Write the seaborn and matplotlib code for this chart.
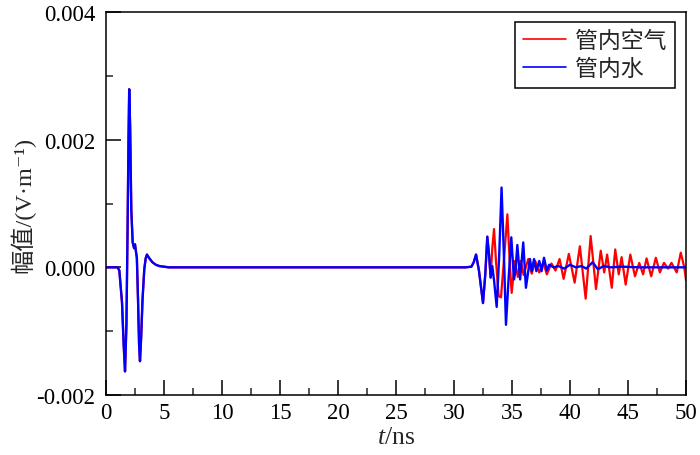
import numpy as np
import pandas as pd
import matplotlib
matplotlib.use("Agg")
import matplotlib.pyplot as plt
import seaborn as sns
from matplotlib.ticker import MultipleLocator, FormatStrFormatter

# direct wave near the antenna (both media share it), amplitude in 1e-3 V/m
direct_t = [0.0, 1.0, 1.15, 1.38, 1.52, 1.64, 1.76, 1.86, 1.94, 2.0, 2.08, 2.18, 2.3,
            2.42, 2.5, 2.58, 2.66, 2.76, 2.85, 2.93, 3.03, 3.15, 3.3, 3.42, 3.53,
            3.7, 4.0, 4.3, 4.6, 5.0, 5.4, 31.0, 31.5, 31.7, 31.9, 32.15, 32.5,
            32.7, 32.87, 33.02, 33.16]
direct_v = [0.0, 0.0, -0.05, -0.55, -1.2, -1.63, -0.9, 0.6, 2.0, 2.79, 2.2, 0.9, 0.39,
            0.3, 0.36, 0.25, 0.15, -0.5, -1.2, -1.47, -1.1, -0.5, -0.03, 0.14, 0.2,
            0.15, 0.08, 0.04, 0.02, 0.01, 0.0, 0.0, 0.01, 0.08, 0.2, -0.05, -0.56,
            -0.1, 0.48, 0.2, -0.16]

# reflection, air inside the pipe
air_t = [33.3, 33.45, 33.62, 33.85, 34.05, 34.3, 34.6, 34.8, 34.97, 35.25, 35.5,
         35.75, 36.0, 36.4, 36.7, 37.0, 37.35, 37.7, 38.0, 38.4, 38.75, 39.1, 39.45,
         39.9, 40.4, 40.85, 41.35, 41.78, 42.24, 42.65, 42.95, 43.2, 43.6, 43.9,
         44.2, 44.45, 44.8, 45.2, 45.6, 45.97, 46.3, 46.6, 47.0, 47.4, 47.75, 48.1,
         48.45, 48.75, 49.2, 49.55, 49.85, 50.0]
air_v = [0.3, 0.6, 0.1, -0.45, -0.47, 0.1, 0.83, 0.1, -0.4, 0.1, -0.15,
         0.1, -0.12, 0.13, -0.1, 0.1, -0.08, 0.08, -0.11, 0.06, -0.05, 0.13, -0.18,
         0.21, -0.24, 0.33, -0.49, 0.49, -0.34, 0.26, -0.08, 0.2, -0.32, 0.28,
         -0.11, 0.16, -0.27, 0.2, -0.14, 0.07, -0.11, 0.14, -0.14, 0.15, -0.08, 0.07,
         -0.02, 0.07, -0.08, 0.23, 0.0, -0.2]

# reflection, water inside the pipe
water_t = [33.3, 33.45, 33.68, 33.9, 34.1, 34.3, 34.48, 34.7, 34.94, 35.17, 35.3,
           35.46, 35.7, 35.97, 36.2, 36.55, 36.7, 36.9, 37.1, 37.35, 37.55, 37.76,
           38.0, 38.2, 38.6, 39.0, 39.5, 40.0, 40.5, 41.0, 41.4, 41.95, 42.4, 42.9,
           43.5, 44.5, 46.0, 48.0, 50.0]
water_v = [0.02, -0.2, -0.62, 0.2, 1.25, 0.2, -0.9, -0.2, 0.47, -0.19, -0.05,
           0.35, -0.19, 0.39, -0.32, 0.13, -0.06, 0.13, -0.06, 0.1, -0.06, 0.15,
           -0.05, 0.04, 0.0, 0.02, -0.02, 0.04, 0.0, 0.02, -0.02, 0.08, -0.03, 0.02,
           0.0, 0.01, 0.0, 0.0, 0.0]

labels = ["管内空气", "管内水"]

air = pd.DataFrame({"t": direct_t + air_t, "v": np.array(direct_v + air_v) * 1e-3})
water = pd.DataFrame({"t": direct_t + water_t, "v": np.array(direct_v + water_v) * 1e-3})

sns.set_style("ticks")
plt.rcParams["font.family"] = ["Liberation Serif", "Noto Sans CJK SC", "DejaVu Serif"]
plt.rcParams["mathtext.fontset"] = "custom"
plt.rcParams["mathtext.rm"] = "Liberation Serif"
plt.rcParams["mathtext.it"] = "Liberation Serif:italic"

fig = plt.figure(figsize=(7, 4.56), dpi=100)
ax = fig.add_axes([106 / 700, 1 - 396 / 456, 580 / 700, 383 / 456])

sns.lineplot(data=air, x="t", y="v", color="#ff0000", lw=1.6, label=labels[0],
             estimator=None, sort=False, ax=ax)
sns.lineplot(data=water, x="t", y="v", color="#0000ff", lw=1.7, label=labels[1],
             estimator=None, sort=False, ax=ax)

ax.set_xlim(0, 50)
ax.set_ylim(-0.002, 0.004)
ax.xaxis.set_major_locator(MultipleLocator(5))
ax.xaxis.set_minor_locator(MultipleLocator(2.5))
ax.yaxis.set_major_locator(MultipleLocator(0.002))
ax.yaxis.set_minor_locator(MultipleLocator(0.001))
ax.yaxis.set_major_formatter(FormatStrFormatter("%.3f"))
ax.tick_params(which="major", direction="in", length=11, width=1.1, labelsize=16.5,
               pad=5, colors="black")
ax.tick_params(axis="y", which="major", pad=7.5)
ax.tick_params(which="minor", direction="in", length=5, width=1.1)
for s in ax.spines.values():
    s.set_linewidth(1.1)
    s.set_color("black")

ax.set_xlabel("$t$/ns", fontsize=18.5, labelpad=2)
ax.set_ylabel("幅值/(V·m⁻¹)", fontsize=17.5, labelpad=1)

leg = ax.legend(loc="upper right", bbox_to_anchor=(1 - 11 / 580, 1 - 10 / 383),
                borderaxespad=0, fancybox=False, edgecolor="black", fontsize=16.5,
                handlelength=1.9, handletextpad=0.4, borderpad=0.35, labelspacing=0.3)
leg.get_frame().set_linewidth(1.1)
leg.get_frame().set_alpha(1)
for line in leg.get_lines():
    line.set_linewidth(1.2)

fig.savefig("out.png", dpi=100)
